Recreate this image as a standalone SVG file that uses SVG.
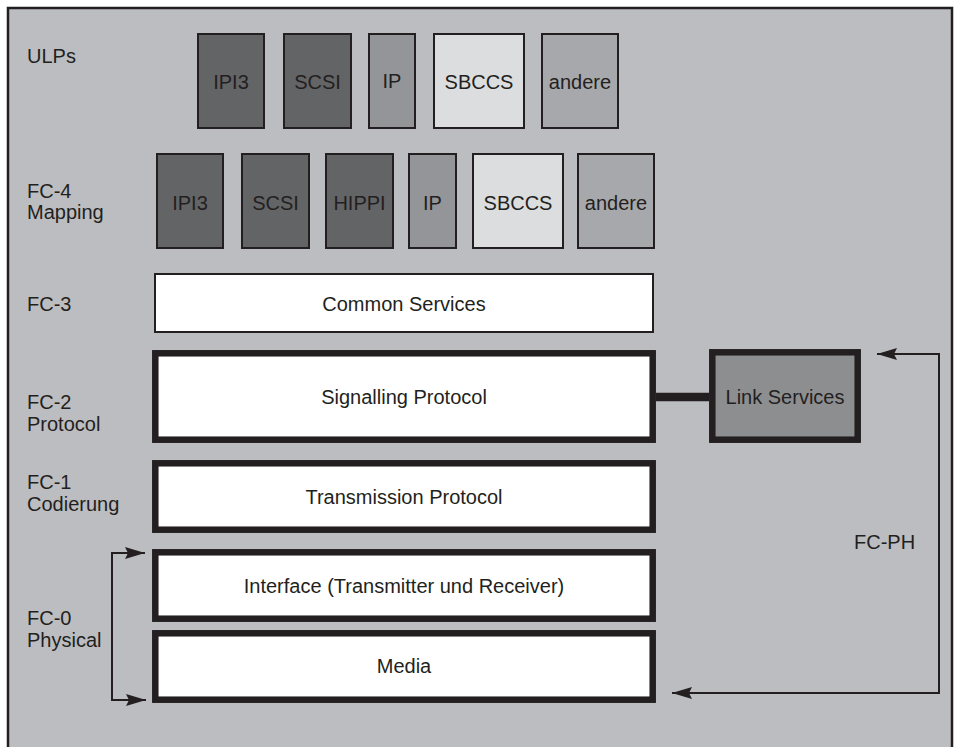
<svg xmlns="http://www.w3.org/2000/svg" width="955" height="747" viewBox="0 0 955 747">
<style>
text{font-family:"Liberation Sans",Arial,sans-serif;font-size:20px;fill:#231f20}
.c{text-anchor:middle}
.box{stroke:#231f20;stroke-width:2}
.thick{stroke:#231f20;stroke-width:6.5;fill:#fff}
.dark{fill:#636466}
.mid{fill:#939598}
.light{fill:#dcdddf}
.other{fill:#a7a8ab}
.conn{stroke:#231f20;stroke-width:2;fill:none}
</style>
<defs>
<marker id="ah" markerWidth="20" markerHeight="12" refX="20" refY="6" orient="auto" markerUnits="userSpaceOnUse">
<path d="M0,0 L20,6 L0,12 L3,6 Z" fill="#231f20"/>
</marker>
</defs>
<rect x="8" y="8" width="944" height="750" fill="#bcbdc0" stroke="#231f20" stroke-width="2.5"/>

<g id="labels">
<text x="27" y="63">ULPs</text>
<text x="27" y="198">FC-4</text>
<text x="27" y="219">Mapping</text>
<text x="27" y="311">FC-3</text>
<text x="27" y="409">FC-2</text>
<text x="27" y="431">Protocol</text>
<text x="27" y="489">FC-1</text>
<text x="27" y="511">Codierung</text>
<text x="27" y="625">FC-0</text>
<text x="27" y="647">Physical</text>
<text x="854" y="549">FC-PH</text>
</g>

<g id="ulp-ipi3"><rect class="box dark" x="198" y="34" width="66" height="94"/><text class="c" x="231" y="89">IPI3</text></g>
<g id="ulp-scsi"><rect class="box dark" x="284" y="34" width="67" height="94"/><text class="c" x="317.5" y="89">SCSI</text></g>
<g id="ulp-ip"><rect class="box mid" x="369" y="34" width="46" height="94"/><text class="c" x="392" y="88">IP</text></g>
<g id="ulp-sbccs"><rect class="box light" x="434" y="34" width="90" height="94"/><text class="c" x="479" y="89">SBCCS</text></g>
<g id="ulp-andere"><rect class="box other" x="542" y="34" width="76" height="94"/><text class="c" x="580" y="89">andere</text></g>

<g id="fc4-ipi3"><rect class="box dark" x="157" y="154" width="66" height="94"/><text class="c" x="190" y="210">IPI3</text></g>
<g id="fc4-scsi"><rect class="box dark" x="242" y="154" width="67" height="94"/><text class="c" x="275.5" y="210">SCSI</text></g>
<g id="fc4-hippi"><rect class="box dark" x="326" y="154" width="67" height="94"/><text class="c" x="359.5" y="210">HIPPI</text></g>
<g id="fc4-ip"><rect class="box mid" x="409" y="154" width="47" height="94"/><text class="c" x="432.5" y="210">IP</text></g>
<g id="fc4-sbccs"><rect class="box light" x="473" y="154" width="90" height="94"/><text class="c" x="518" y="210">SBCCS</text></g>
<g id="fc4-andere"><rect class="box other" x="578" y="154" width="76" height="94"/><text class="c" x="616" y="210">andere</text></g>

<g id="fc3"><rect class="box" fill="#fff" x="155" y="274" width="498" height="58"/><text class="c" x="404" y="311">Common Services</text></g>
<g id="fc2"><rect class="thick" x="155.3" y="353.3" width="497.4" height="86.4"/><text class="c" x="404" y="404">Signalling Protocol</text></g>
<g id="link"><rect class="thick" x="712.3" y="352.3" width="145.4" height="87.4" style="fill:#8d8e90"/><text class="c" x="785" y="404">Link Services</text></g>
<g id="fc1"><rect class="thick" x="155.3" y="463.3" width="497.4" height="66.4"/><text class="c" x="404" y="504">Transmission Protocol</text></g>
<g id="iface"><rect class="thick" x="155.3" y="552.3" width="497.4" height="66.4"/><text class="c" x="404" y="593">Interface (Transmitter und Receiver)</text></g>
<g id="media"><rect class="thick" x="155.3" y="633.3" width="497.4" height="66.4"/><text class="c" x="404" y="673">Media</text></g>

<g id="connectors">
<line x1="656" y1="397" x2="709" y2="397" stroke="#231f20" stroke-width="8.5"/>
<line class="conn" x1="112" y1="552" x2="112" y2="701"/>
<line class="conn" x1="111" y1="553" x2="145" y2="553" marker-end="url(#ah)"/>
<line class="conn" x1="111" y1="700" x2="146" y2="700" marker-end="url(#ah)"/>
<line class="conn" x1="939" y1="353" x2="939" y2="694"/>
<line class="conn" x1="940" y1="354" x2="877" y2="354" marker-end="url(#ah)"/>
<line class="conn" x1="940" y1="693" x2="672" y2="693" marker-end="url(#ah)"/>
</g>
</svg>
